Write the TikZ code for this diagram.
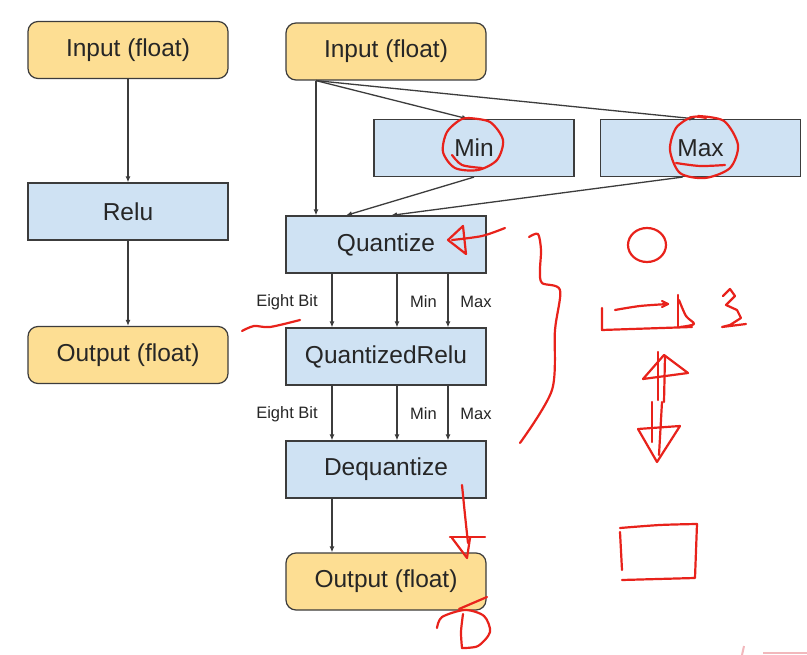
\documentclass[tikz,border=0pt]{standalone}
\usepackage{fontspec}
\setmainfont{Liberation Sans}
\usetikzlibrary{arrows.meta,calc}
\definecolor{boxorange}{HTML}{FDDE93}
\definecolor{boxblue}{HTML}{CFE2F3}
\definecolor{edgegray}{HTML}{3C3C3C}
\definecolor{pen}{HTML}{E8221B}
\definecolor{faintpink}{HTML}{F2B8BC}
\tikzset{
  base/.style={draw=edgegray, line width=1.2pt, minimum width=200pt, minimum height=57pt, inner sep=0pt, text=black!85, font=\fontsize{24.5}{28}\selectfont},
  io/.style={base, fill=boxorange, rounded corners=10pt},
  op/.style={base, fill=boxblue},
  arr/.style={draw=edgegray, line width=1.3pt, -{Latex[length=6pt,width=5pt]}},
  lbl/.style={font=\fontsize{16.5}{18}\selectfont, text=black!85, inner sep=0pt},
  redpen/.style={draw=pen, line width=2.2pt, line cap=round, line join=round},
}
\begin{document}
\begin{tikzpicture}[x=1pt,y=-1pt]
\useasboundingbox (0,0) rectangle (807,655);
\fill[white] (0,0) rectangle (807,655);
% left column
\node[io] (inL) at (128,50) {Input (float)};
\node[op] (relu) at (128,211.5) {Relu};
\node[io] (outL) at (128,355) {Output (float)};
\draw[arr] (inL.south) -- (relu.north);
\draw[arr] (relu.south) -- (outL.north);
% right column
\node[io] (inR) at (386,51.5) {Input (float)};
\node[op] (min) at (474,148) {Min};
\node[op] (max) at (700.5,148) {Max};
\node[op] (quant) at (386,244.5) {Quantize};
\node[op] (qrelu) at (386,356.5) {QuantizedRelu};
\node[op] (deq) at (386,469.5) {Dequantize};
\node[io] (outR) at (386,581.5) {Output (float)};
\draw[arr] ([xshift=-70pt]inR.south) -- ([xshift=-70pt]quant.north);
\draw[arr] ([xshift=-70pt]inR.south) -- ([xshift=-6pt]min.north);
\draw[arr] ([xshift=-70pt]inR.south) -- ([xshift=-5pt]max.north);
\draw[arr] (min.south) -- ([xshift=-40pt]quant.north);
\draw[arr] ([xshift=-18pt]max.south) -- ([xshift=5pt]quant.north);
\foreach \s in {-54,11,62} {
  \draw[arr] ([xshift=\s pt]quant.south) -- ([xshift=\s pt]qrelu.north);
  \draw[arr] ([xshift=\s pt]qrelu.south) -- ([xshift=\s pt]deq.north);
}
\draw[arr] ([xshift=-54pt]deq.south) -- ([xshift=-54pt]outR.north);
\node[lbl] (eb1) at (287,302) {Eight Bit};
\node[lbl] (mn1) at (423.5,302) {Min};
\node[lbl] (mx1) at (476,302) {Max};
\node[lbl] (eb2) at (287,414) {Eight Bit};
\node[lbl] (mn2) at (423.5,414) {Min};
\node[lbl] (mx2) at (476,414) {Max};
% red handwriting
\draw[redpen] plot[smooth] coordinates {(468,118) (490,122) (503,140) (497,160) (478,170) (455,168) (443,152) (447,132) (462,119) (478,119)};
\draw[redpen] plot[smooth] coordinates {(452,155) (462,165) (482,168)};
\draw[redpen] plot[smooth] coordinates {(698,116) (724,121) (738,145) (730,168) (705,178) (680,173) (670,150) (676,128) (692,117) (706,118)};
\draw[redpen] plot[smooth] coordinates {(676,163) (700,166) (725,165)};
\draw[redpen] plot[smooth] coordinates {(505,228) (482,236) (452,240)};
\draw[redpen] (463,226) -- (448,240) -- (466,254) -- cycle;
\draw[redpen] plot[smooth] coordinates {(529,237) (538,234) (541,250) (540,270) (542,283) (560,290) (555,330) (552,390) (520,443)};
\draw[redpen] (647,245) ellipse[x radius=19, y radius=17];
\draw[redpen] (602,308) -- (602,330) -- (692,327);
\draw[redpen] plot[smooth] coordinates {(615,310) (640,306) (668,304)};
\draw[redpen] (662,301) -- (668,304) -- (662,307);
\draw[redpen] (678,295) -- (678,327);
\draw[redpen] plot[smooth] coordinates {(679,300) (686,316) (694,324) (680,327)};
\draw[redpen] plot coordinates {(723,296) (730,289) (735,296) (726,305) (737,310) (741,318) (730,325) (722,327) (746,324)};
\draw[redpen] (658,352) -- (658,400);
\draw[redpen] (665,356) -- (664,402);
\draw[redpen] (643,379) -- (664,355) -- (688,373) -- cycle;
\draw[redpen] (652,402) -- (652,442);
\draw[redpen] (662,402) -- (659,455);
\draw[redpen] (638,429) -- (680,426) -- (657,462) -- cycle;
\draw[redpen] plot[smooth] coordinates {(620,528) (660,525) (697,524)};
\draw[redpen] (697,524) -- (695,578) -- (622,580);
\draw[redpen] (620,532) -- (622,570);
\draw[redpen] plot[smooth] coordinates {(242,331) (254,326) (270,327) (300,320)};
\draw[redpen] plot[smooth] coordinates {(462,485) (465,515) (468,543)};
\draw[redpen] (450,537) -- (485,537);
\draw[redpen] (452,538) -- (467,558) -- (470,538);
\draw[redpen] (459,609) -- (487,597);
\draw[redpen] plot[smooth] coordinates {(437,628) (442,617) (465,610) (484,616) (490,632) (478,646) (462,648)};
\draw[redpen] plot[smooth] coordinates {(463,614) (461,632) (462,648)};
\draw[faintpink, line width=2pt] (744,646) -- (742,655);
\draw[faintpink, line width=2pt] (763,653) -- (807,653);
\end{tikzpicture}
\end{document}
